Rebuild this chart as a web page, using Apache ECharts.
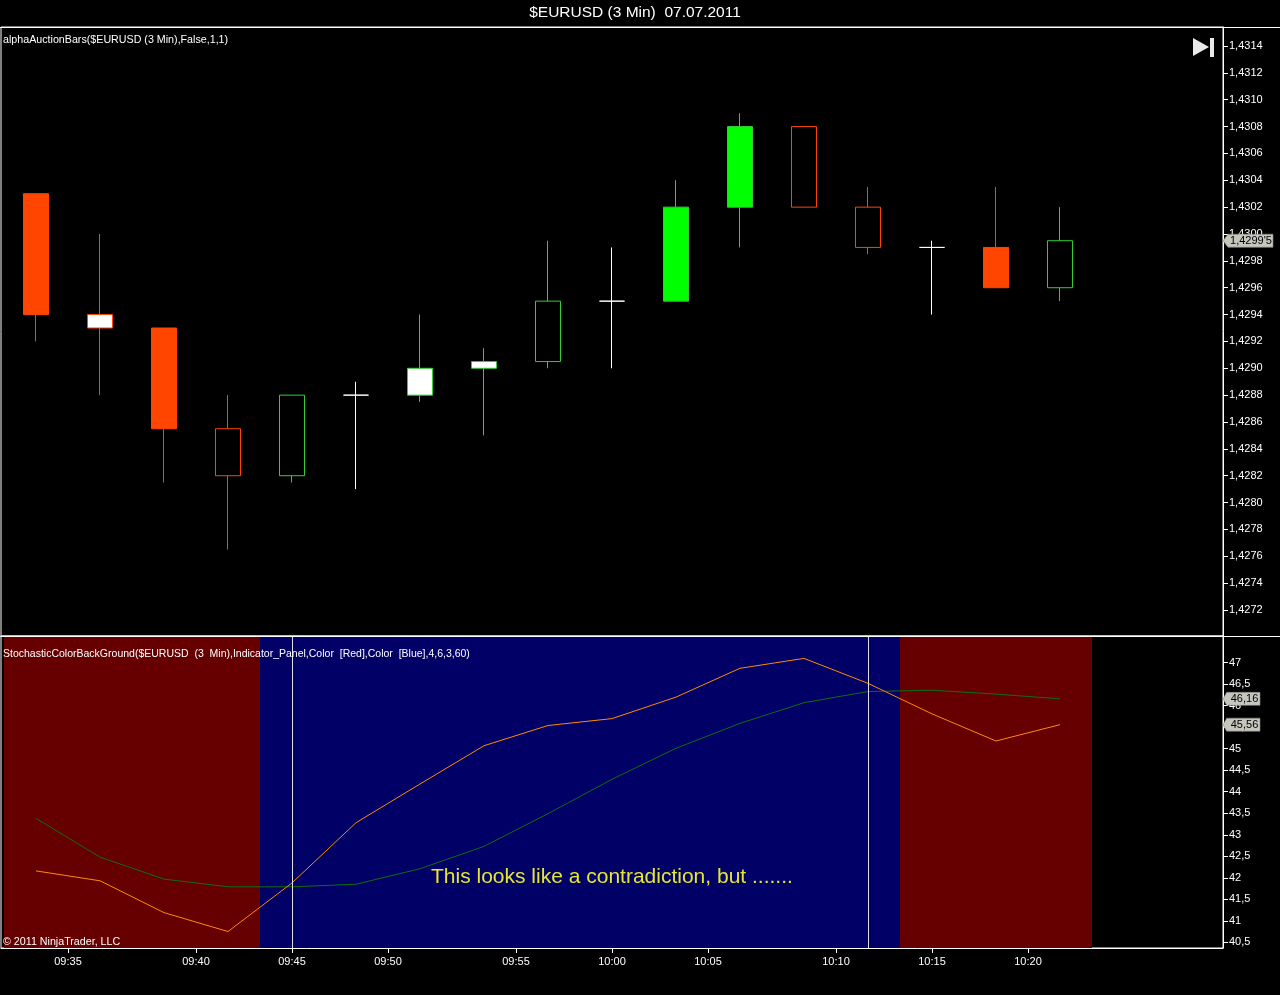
<!DOCTYPE html>
<html><head><meta charset="utf-8">
<script src="https://cdn.jsdelivr.net/npm/echarts@6/dist/echarts.min.js"></script>
<style>html,body{margin:0;padding:0;background:#000;overflow:hidden}#c{width:1280px;height:995px}</style>
</head><body><div id="c"></div>
<script>
// ---- data ----
const times = ['09:33','09:36','09:39','09:42','09:45','09:48','09:51','09:54','09:57','10:00','10:03','10:06','10:09','10:12','10:15','10:18','10:21'];
const openP  = [1.4303, 1.4294, 1.4293, 1.42855, 1.4282, 1.4288, 1.4288, 1.4290, 1.42905, 1.4295, 1.4295, 1.4302, 1.4308, 1.4302, 1.4299, 1.4299, 1.4296];
const highP  = [1.4303, 1.4300, 1.4293, 1.4288, 1.4288, 1.4289, 1.4294, 1.42915, 1.42995, 1.4299, 1.4304, 1.4309, 1.4308, 1.43035, 1.42995, 1.43035, 1.4302];
const lowP   = [1.4292, 1.4288, 1.42815, 1.42765, 1.42815, 1.4281, 1.42875, 1.4285, 1.4290, 1.4290, 1.4295, 1.4299, 1.4302, 1.42985, 1.4294, 1.4296, 1.4295];
const closeP = [1.4294, 1.4293, 1.42855, 1.4282, 1.4288, 1.4288, 1.4290, 1.42905, 1.4295, 1.4295, 1.4302, 1.4308, 1.4302, 1.4299, 1.4299, 1.4296, 1.42995];
const barType = ['solid','white','solid','hollow','hollow','doji','white','white','hollow','doji','solid','solid','hollow','hollow','doji','solid','hollow'];
const stochK = [42.16, 41.93, 41.19, 40.75, 41.88, 43.28, 44.18, 45.07, 45.54, 45.70, 46.20, 46.87, 47.10, 46.52, 45.81, 45.18, 45.56];
const stochD = [43.38, 42.48, 41.97, 41.79, 41.79, 41.85, 42.21, 42.73, 43.49, 44.29, 45.01, 45.59, 46.07, 46.33, 46.36, 46.27, 46.16];
const bgState = ['down','down','down','down','up','up','up','up','up','up','up','up','up','up','down','down','down'];
const signalTimes = ['09:45','10:12'];
const xTickTimes = ['09:35','09:40','09:45','09:50','09:55','10:00','10:05','10:10','10:15','10:20'];
const priceTicks = [1.4272,1.4274,1.4276,1.4278,1.4280,1.4282,1.4284,1.4286,1.4288,1.4290,1.4292,1.4294,1.4296,1.4298,1.4300,1.4302,1.4304,1.4306,1.4308,1.4310,1.4312,1.4314];
const stochTicks = [40.5,41,41.5,42,42.5,43,43.5,44,44.5,45,45.5,46,46.5,47];

// ---- helpers ----
const FONT = '"Liberation Sans", Arial, sans-serif';
const RED = '#FF4500', GREEN_FILL = '#00FF00', GREEN_LINE = '#33CC33', WHITE = '#FFFFFF';
const BG = {down: '#660000', up: '#000066'};
function toMin(t){ const p = t.split(':'); return (+p[0]) * 60 + (+p[1]); }
const barMin = times.map(toMin);
function timePos(t){
  const m = toMin(t);
  for (let i = 0; i < barMin.length; i++) {
    if (barMin[i] === m) return i;
    if (i < barMin.length - 1 && barMin[i] < m && m < barMin[i+1]) return i + 0.5;
  }
  return null;
}
const xTickPos = xTickTimes.map(timePos);
const xLabelMap = {}; xTickPos.forEach((p, i) => { xLabelMap[p] = xTickTimes[i]; });
const X_MIN = -0.546875, X_MAX = 18.546875;
const P_MIN = 1.4270064, P_MAX = 1.4315415;
const S_MIN = 40.3675, S_MAX = 47.6207;

function candleStyle(i){
  const o = openP[i], c = closeP[i];
  const dir = c > o ? 'up' : (c < o ? 'down' : 'doji');
  const line = dir === 'up' ? GREEN_LINE : (dir === 'down' ? RED : WHITE);
  let fill;
  if (barType[i] === 'solid') fill = dir === 'up' ? GREEN_FILL : RED;
  else if (barType[i] === 'white') fill = WHITE;
  else fill = 'rgba(0,0,0,0)';
  return {color: fill, color0: fill, borderColor: line, borderColor0: line, borderColorDoji: line, borderWidth: 1};
}
const candleData = times.map((t, i) => ({value: [i, openP[i], closeP[i], lowP[i], highP[i]], itemStyle: candleStyle(i)}));

function fmtPrice(v){ return v.toFixed(4).replace('.', ','); }
function fmtPriceTag(v){
  const s = String(Math.round(v * 100000));
  return s[0] + ',' + s.slice(1, 5) + "'" + s.slice(5);
}
function fmtStoch(v){ return String(+v.toFixed(2)).replace('.', ','); }

// background runs
const runs = [];
let start = 0;
for (let i = 1; i <= bgState.length; i++) {
  if (i === bgState.length || bgState[i] !== bgState[start]) {
    runs.push([{xAxis: start - 0.5, itemStyle: {color: BG[bgState[start]]}}, {xAxis: i - 0.5}]);
    start = i;
  }
}

function tag(value, text, w){
  return {
    symbol: 'path://M0,6L6,0H60V12H6Z',
    symbolSize: [w, 13],
    symbolKeepAspect: false,
    symbolOffset: [w / 2, 0],
    silent: true,
    itemStyle: {color: '#C6C6BE', borderColor: '#8a8a84', borderWidth: 0.5},
    label: {show: true, position: 'inside', color: '#000', fontFamily: FONT, fontSize: 11, offset: [3, 0], formatter: () => text},
    data: [{coord: [X_MAX, value], value: value}]
  };
}

const last = times.length - 1;
const chart = echarts.init(document.getElementById('c'), null, {renderer: 'canvas'});
chart.setOption({
  animation: false,
  backgroundColor: '#000',
  grid: [
    {left: 1, right: 57, top: 27, height: 609, show: true, borderColor: '#fff', borderWidth: 1, backgroundColor: '#000'},
    {left: 1, right: 57, top: 636, bottom: 47, show: true, borderColor: '#fff', borderWidth: 1, backgroundColor: '#000'}
  ],
  xAxis: [
    {gridIndex: 0, type: 'value', min: X_MIN, max: X_MAX, show: false, axisLine: {onZero: false}},
    {gridIndex: 1, type: 'value', min: X_MIN, max: X_MAX, splitLine: {show: false},
      axisLine: {show: true, onZero: false, lineStyle: {color: '#fff', width: 1}},
      axisTick: {show: true, length: 5, lineStyle: {color: '#fff'}, customValues: xTickPos},
      axisLabel: {color: '#fff', fontFamily: FONT, fontSize: 11, margin: 8, customValues: xTickPos,
        formatter: v => xLabelMap[v] || ''}}
  ],
  yAxis: [
    {gridIndex: 0, type: 'value', position: 'right', min: P_MIN, max: P_MAX, scale: true, splitLine: {show: false},
      axisLine: {show: true, onZero: false, lineStyle: {color: '#fff'}},
      axisTick: {show: true, length: 5, lineStyle: {color: '#fff'}, customValues: priceTicks},
      axisLabel: {color: '#fff', fontFamily: FONT, fontSize: 11, margin: 6, customValues: priceTicks, formatter: fmtPrice}},
    {gridIndex: 1, type: 'value', position: 'right', min: S_MIN, max: S_MAX, scale: true, splitLine: {show: false},
      axisLine: {show: true, onZero: false, lineStyle: {color: '#fff'}},
      axisTick: {show: true, length: 5, lineStyle: {color: '#fff'}, customValues: stochTicks},
      axisLabel: {color: '#fff', fontFamily: FONT, fontSize: 11, margin: 6, customValues: stochTicks, formatter: v => fmtStoch(v)}}
  ],
  series: [
    {type: 'candlestick', xAxisIndex: 0, yAxisIndex: 0, barWidth: 26, data: candleData, z: 3,
      markPoint: tag(closeP[last], fmtPriceTag(closeP[last]), 50)},
    {type: 'line', xAxisIndex: 1, yAxisIndex: 1, data: [], z: 1, silent: true,
      markArea: {silent: true, data: runs},
      markLine: {silent: true, symbol: ['none', 'none'], label: {show: false},
        lineStyle: {color: '#e0e0e0', width: 1, type: 'solid'},
        data: signalTimes.map(t => ({xAxis: timePos(t)}))}},
    {type: 'line', name: 'D', xAxisIndex: 1, yAxisIndex: 1, z: 3, symbol: 'none',
      lineStyle: {color: '#0E6E0E', width: 1}, data: stochD.map((v, i) => [i, v]),
      markPoint: tag(stochD[last], fmtStoch(stochD[last]), 37)},
    {type: 'line', name: 'K', xAxisIndex: 1, yAxisIndex: 1, z: 4, symbol: 'none',
      lineStyle: {color: '#FF8C00', width: 1}, data: stochK.map((v, i) => [i, v]),
      markPoint: tag(stochK[last], fmtStoch(stochK[last]), 37)}
  ],
  graphic: [
    {type: 'line', z: 100, shape: {x1: 0, y1: 27.5, x2: 1280, y2: 27.5}, style: {stroke: '#fff', lineWidth: 1}},
    {type: 'line', z: 100, shape: {x1: 0, y1: 636.5, x2: 1280, y2: 636.5}, style: {stroke: '#fff', lineWidth: 1}},
    {type: 'text', z: 100, x: 635, y: 13, style: {text: '$EURUSD (3 Min)  07.07.2011', fill: '#fff', font: '15.5px ' + FONT, textAlign: 'center', textVerticalAlign: 'middle'}},
    {type: 'text', z: 100, x: 3, y: 40, style: {text: 'alphaAuctionBars($EURUSD (3 Min),False,1,1)', fill: '#fff', font: '10.7px ' + FONT, textVerticalAlign: 'middle'}},
    {type: 'text', z: 100, x: 3, y: 654, style: {text: 'StochasticColorBackGround($EURUSD  (3  Min),Indicator_Panel,Color  [Red],Color  [Blue],4,6,3,60)', fill: '#fff', font: '10.5px ' + FONT, textVerticalAlign: 'middle'}},
    {type: 'text', z: 100, x: 3, y: 942, style: {text: '\u00A9 2011 NinjaTrader, LLC', fill: '#fff', font: '10.7px ' + FONT, textVerticalAlign: 'middle'}},
    {type: 'text', z: 100, x: 431, y: 877, style: {text: 'This looks like a contradiction, but .......', fill: '#E6E632', font: '21px ' + FONT, textVerticalAlign: 'middle'}},
    {type: 'polygon', z: 100, shape: {points: [[1193, 38], [1209, 47], [1193, 56]]}, style: {fill: '#EAEAEA'}},
    {type: 'rect', z: 100, shape: {x: 1210, y: 38, width: 4, height: 19}, style: {fill: '#EAEAEA'}}
  ]
});
</script>
</body></html>
